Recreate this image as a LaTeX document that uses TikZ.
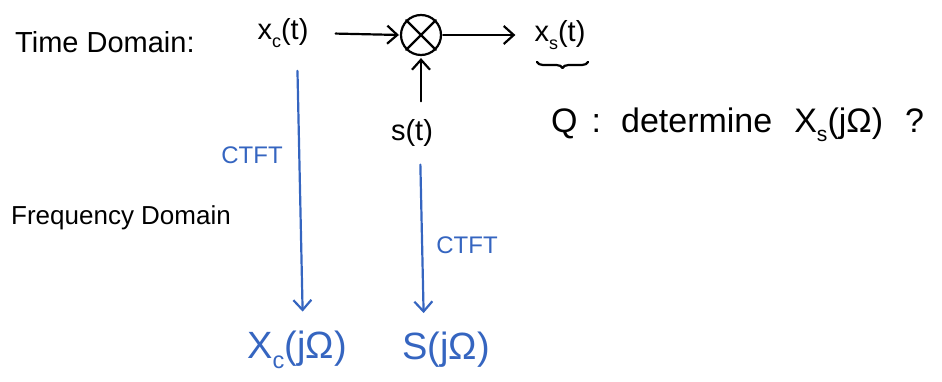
\documentclass[tikz,border=0pt]{standalone}
\usepackage{fontspec}
\setmainfont{Liberation Sans}
\usetikzlibrary{arrows.meta,decorations.pathreplacing}
\definecolor{penblue}{HTML}{3565C0}
\newcommand{\lowsub}[1]{\raisebox{-0.28em}{\fontsize{0.62em}{0.7em}\selectfont #1}}
\tikzset{
  lbl/.style={inner sep=1pt, text=black},
  bluelbl/.style={inner sep=1pt, text=penblue},
  pen/.style={line width=2.2pt, line cap=round, line join=round, draw=black},
  bluepen/.style={line width=2.2pt, line cap=round, line join=round, draw=penblue},
  tip/.style={-{Straight Barb[length=10pt,width=18pt,line width=2.2pt]}},
}
\begin{document}
\begin{tikzpicture}[x=1pt,y=-1pt]
\useasboundingbox (0,0) rectangle (942,382);
\node[lbl, anchor=west, font=\fontsize{29}{32}\selectfont] (td) at (14,42) {Time Domain:};
\node[lbl, anchor=west, font=\fontsize{26}{28}\selectfont] (fd) at (10,218) {Frequency Domain};
\node[lbl, font=\fontsize{29}{32}\selectfont] (xc) at (283,33) {x\lowsub{c}(t)};
\node[pen, circle, minimum size=40pt, inner sep=0pt] (mult) at (421,35) {};
\draw[pen] (mult.north west) -- (mult.south east) (mult.north east) -- (mult.south west);
\node[lbl, font=\fontsize{29}{32}\selectfont] (xs) at (560,35) {x\lowsub{s}(t)};
\node[lbl, font=\fontsize{29}{32}\selectfont] (st) at (412,133) {s(t)};
\node[bluelbl, font=\fontsize{24}{27}\selectfont] (ctft1) at (252,155) {CTFT};
\node[bluelbl, font=\fontsize{24}{27}\selectfont] (ctft2) at (467,245) {CTFT};
\node[bluelbl, font=\fontsize{38}{42}\selectfont] (Xcj) at (297,350) {X\lowsub{c}(jΩ)};
\node[bluelbl, font=\fontsize{38}{42}\selectfont] (Sj) at (446,350) {S(jΩ)};
\node[lbl, anchor=west, font=\fontsize{34}{38}\selectfont] (q) at (550,125) {Q\hspace{14pt}:\hspace{20pt}determine\hspace{22pt}X\lowsub{s}(jΩ)\hspace{22pt}?};
\draw[pen, tip, shorten <=26pt, shorten >=1pt] (xc.east) -- (mult.west);
\draw[pen, tip, shorten <=1pt, shorten >=18pt] (mult.east) -- (xs.west);
\draw[pen, tip, shorten <=17pt, shorten >=2pt] (st.north -| mult.south) -- (mult.south);
\draw[bluepen, tip, shorten <=22pt, shorten >=18pt] ([xshift=14pt]xc.south) -- ([xshift=6pt]Xcj.north);
\draw[bluepen, tip, shorten <=17pt, shorten >=18pt] ([xshift=8pt]st.south) -- ([xshift=-22pt]Sj.north);
\draw[pen, decorate, decoration={brace, amplitude=6pt, mirror}] (537,62) -- (588,62);
\end{tikzpicture}
\end{document}
